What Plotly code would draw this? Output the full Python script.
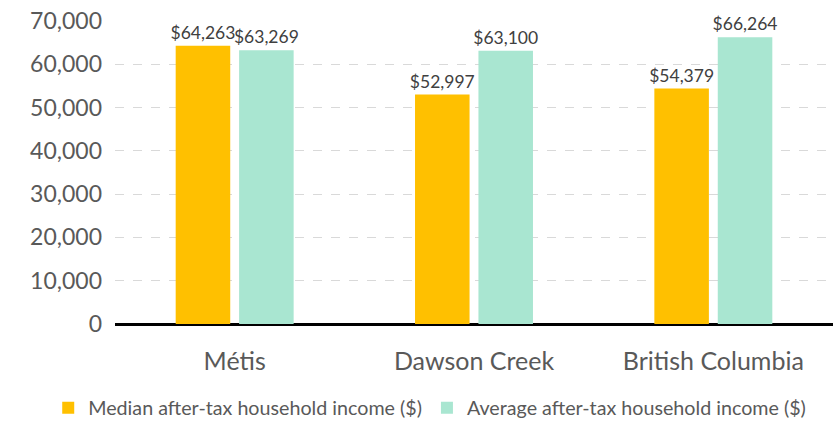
import plotly.graph_objects as go

categories = ['Métis', 'Dawson Creek', 'British Columbia']
median_income = [64263, 52997, 54379]
average_income = [63269, 63100, 66264]
series_names = ['Median after-tax household income ($)',
                'Average after-tax household income ($)']
COLORS = ['#FFC000', '#A9E6D1']

FONT = 'Lato, Open Sans, sans-serif'

fig = go.Figure()

for i, values in enumerate([median_income, average_income]):
    fig.add_trace(go.Bar(name=series_names[i], x=categories, y=values,
                         marker_color=COLORS[i], marker_line_width=0,
                         text=['${:,}'.format(v) for v in values],
                         textposition='outside', cliponaxis=False,
                         constraintext='none',
                         textfont=dict(size=17.5, color='#404040', family=FONT)))

fig.update_layout(
    width=833, height=421,
    margin=dict(l=115, r=0, t=21, b=97, autoexpand=False),
    plot_bgcolor='white', paper_bgcolor='white',
    barmode='group', bargap=0.47, bargroupgap=0.14,
    font=dict(family=FONT, color='#595959'),
    legend=dict(orientation='h', x=-0.093, xanchor='left', y=-0.277, yanchor='middle',
                font=dict(size=19.7, color='#595959'), itemwidth=30),
)

fig.update_xaxes(showgrid=False, showline=False, ticks='',
                 tickfont=dict(size=25, color='#595959'), ticklabelstandoff=20)

fig.update_yaxes(range=[0, 70000], dtick=10000, tickformat=',d',
                 showgrid=True, gridcolor='#D9D9D9', griddash='dash', gridwidth=1,
                 zeroline=True, zerolinecolor='black', zerolinewidth=3,
                 ticklabeloverflow='allow',
                 tickfont=dict(size=23, color='#595959'), ticklabelstandoff=12)

# drop the default 8px page margin so the chart fills the window
fig.write_html("out.html", config={'displayModeBar': False},
               post_script="document.body.style.margin = '0';")
